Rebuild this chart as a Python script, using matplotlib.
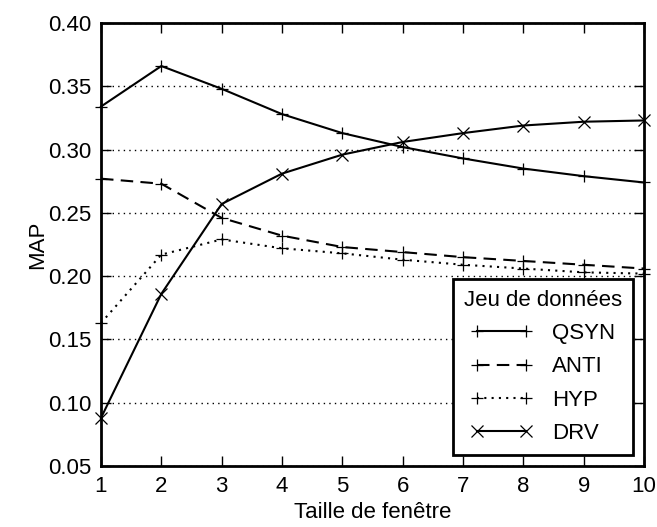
import matplotlib
matplotlib.use("Agg")
import matplotlib.pyplot as plt

plt.rcParams['font.family'] = ['Liberation Sans', 'DejaVu Sans']

tailles = [1, 2, 3, 4, 5, 6, 7, 8, 9, 10]
qsyn = [0.334, 0.366, 0.348, 0.328, 0.313, 0.302, 0.293, 0.285, 0.279, 0.274]
anti = [0.277, 0.273, 0.246, 0.232, 0.223, 0.219, 0.215, 0.212, 0.209, 0.206]
hyp = [0.163, 0.217, 0.229, 0.222, 0.218, 0.213, 0.209, 0.206, 0.203, 0.202]
drv = [0.088, 0.186, 0.257, 0.281, 0.296, 0.306, 0.313, 0.319, 0.322, 0.323]

fig = plt.figure(figsize=(6.57, 5.27), dpi=100)
ax = fig.add_axes([101/657, 61/527, 543/657, 443/527])

ax.plot(tailles, qsyn, color='black', lw=1.5, ls='-', marker='+', ms=9, mew=0.9, label='QSYN', clip_on=False)
ax.plot(tailles, anti, color='black', lw=1.5, ls=(0, (6, 3.5)), marker='+', ms=9, mew=0.9, label='ANTI', clip_on=False)
ax.plot(tailles, hyp, color='black', lw=1.5, ls=(0, (1, 2.5)), marker='+', ms=9, mew=0.9, label='HYP', clip_on=False)
ax.plot(tailles, drv, color='black', lw=1.5, ls='-', marker='x', ms=8, mew=0.9, label='DRV', clip_on=False)

ax.set_xlim(1, 10)
ax.set_ylim(0.05, 0.40)
ax.set_xticks(tailles)
ax.set_yticks([0.05, 0.10, 0.15, 0.20, 0.25, 0.30, 0.35, 0.40])
ax.set_yticklabels(['0.05', '0.10', '0.15', '0.20', '0.25', '0.30', '0.35', '0.40'])
ax.yaxis.grid(True, ls=(0, (1, 3)), color='black', lw=1.0)
ax.tick_params(direction='in', top=True, right=True, length=7, width=1.0, labelsize=16, pad=7)
for s in ax.spines.values():
    s.set_linewidth(2.0)

ax.set_xlabel('Taille de fenêtre', fontsize=16, labelpad=3.5)
ax.set_ylabel('MAP', fontsize=16, labelpad=0)

leg = ax.legend(title='Jeu de données', loc='lower right', fontsize=16, title_fontsize=16,
                handlelength=2.8, handletextpad=0.9, numpoints=2, fancybox=False,
                edgecolor='black', framealpha=1, borderpad=0.5, labelspacing=0.55,
                borderaxespad=0, bbox_to_anchor=(633/657, 72/527), bbox_transform=fig.transFigure)
leg.get_frame().set_linewidth(2.0)

fig.savefig('out.png', dpi=100)
